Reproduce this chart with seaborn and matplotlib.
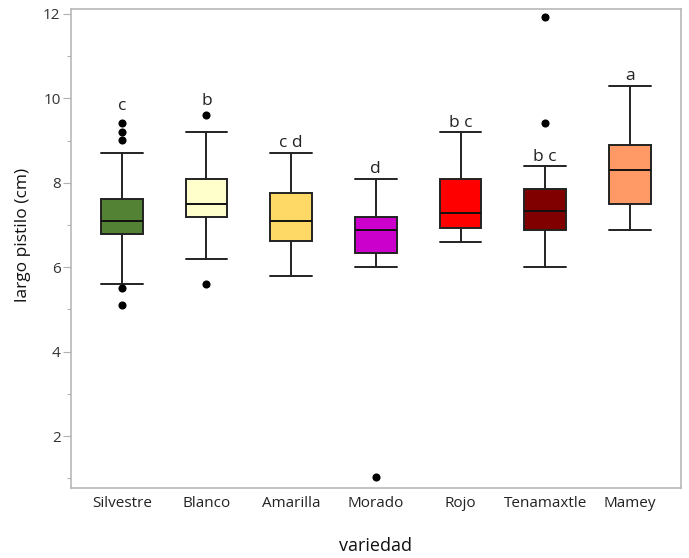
import matplotlib
matplotlib.use("Agg")
import matplotlib.pyplot as plt
import seaborn as sns
import pandas as pd
from matplotlib.ticker import MultipleLocator

# ---- data ----
variedades = ["Silvestre", "Blanco", "Amarilla", "Morado", "Rojo", "Tenamaxtle", "Mamey"]
whisker_lo = [5.61, 6.19, 5.79, 6.00, 6.60, 6.00, 6.89]
q1 = [6.79, 7.20, 6.62, 6.34, 6.93, 6.88, 7.50]
median = [7.09, 7.50, 7.09, 6.89, 7.29, 7.34, 8.30]
q3 = [7.62, 8.10, 7.77, 7.20, 8.10, 7.86, 8.89]
whisker_hi = [8.71, 9.20, 8.71, 8.10, 9.20, 8.39, 10.30]
outlier_var = ["Silvestre", "Silvestre", "Silvestre", "Silvestre", "Silvestre",
               "Blanco", "Blanco", "Morado", "Tenamaxtle", "Tenamaxtle"]
outlier_val = [9.42, 9.21, 9.01, 5.51, 5.10, 9.61, 5.60, 1.02, 11.92, 9.41]
letters = ["c", "b", "c d", "d", "b c", "b c", "a"]
letter_y = [9.73, 9.84, 8.86, 8.24, 9.33, 8.52, 10.44]
colors = ["#548235", "#FFFFCC", "#FFD966", "#CC00CC", "#FF0000", "#800000", "#FF9966"]

sns.set_theme(style="white")
plt.rcParams["font.family"] = ["Open Sans", "DejaVu Sans"]

fig, ax = plt.subplots(figsize=(6.89, 5.58), dpi=100)
fig.subplots_adjust(left=0.103, right=0.988, top=0.984, bottom=0.1254)

stats = []
for i, v in enumerate(variedades):
    stats.append(dict(label=v, whislo=whisker_lo[i], q1=q1[i], med=median[i],
                      q3=q3[i], whishi=whisker_hi[i], fliers=[]))

bp = ax.bxp(stats, positions=range(len(variedades)), widths=0.49,
            patch_artist=True, showfliers=False,
            boxprops=dict(edgecolor="#222222", linewidth=1.4),
            medianprops=dict(color="#111111", linewidth=1.4),
            whiskerprops=dict(color="#222222", linewidth=1.4),
            capprops=dict(color="#222222", linewidth=1.4),
            capwidths=0.49)
for patch, c in zip(bp["boxes"], colors):
    patch.set_facecolor(c)

out_df = pd.DataFrame({"x": [variedades.index(v) for v in outlier_var],
                       "y": outlier_val})
sns.scatterplot(data=out_df, x="x", y="y", ax=ax, color="black", s=34,
                edgecolor="black", linewidth=0, zorder=5, legend=False)

for i, (t, yv) in enumerate(zip(letters, letter_y)):
    ax.text(i, yv, t, ha="center", va="baseline", fontsize=12.5, color="#222222")

ax.set_xlim(-0.6, 6.6)
ax.set_ylim(0.77, 12.12)
ax.set_xticks(range(len(variedades)))
ax.set_xticklabels(variedades)
ax.yaxis.set_major_locator(MultipleLocator(2))
ax.yaxis.set_minor_locator(MultipleLocator(1))
ax.tick_params(axis="y", which="major", left=True, length=5.5, width=0.8,
               color="#b0b0b0", labelsize=11, labelcolor="#333333", pad=2)
ax.tick_params(axis="y", which="minor", left=True, length=3, width=0.8, color="#b0b0b0")
ax.tick_params(axis="x", bottom=False, labelsize=11, labelcolor="#222222", pad=0)

for s in ax.spines.values():
    s.set_color("#b8b8b8")
    s.set_linewidth(1.2)

ax.set_xlabel("variedad", fontsize=13, color="#111111")
ax.xaxis.label.set_va("center")
ax.xaxis.set_label_coords(0.5, -0.121)
ax.set_ylabel("largo pistilo (cm)", fontsize=12.5, color="#111111")
ax.yaxis.label.set_va("center")
ax.yaxis.set_label_coords(-0.0787, 0.528)

fig.savefig("out.png", dpi=100)
